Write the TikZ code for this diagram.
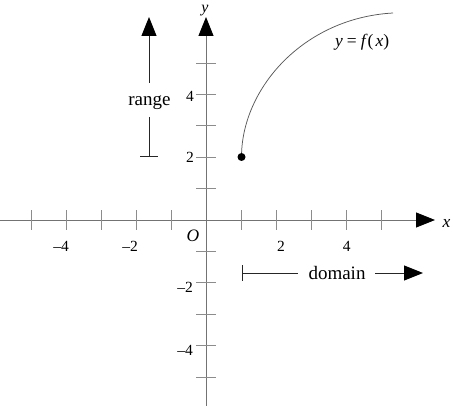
\documentclass[tikz,border=0pt]{standalone}
\usepackage{fontspec}
\setmainfont{Liberation Serif}
\usetikzlibrary{arrows.meta}
\begin{document}
\begin{tikzpicture}[x=1pt,y=-1pt,
  axis/.style={draw=black!55,line width=0.9pt},
  tickmark/.style={draw=black!45,line width=0.8pt},
  bigtip/.style={-{Triangle[length=19pt,width=15pt,color=black]}},
  guide/.style={draw=black!85,line width=1pt},
  num/.style={font=\fontsize{15.5}{15.5}\selectfont,inner sep=0pt},
  lbl/.style={font=\fontsize{19}{19}\selectfont,inner sep=0pt},
  var/.style={font=\fontsize{17.5}{17.5}\selectfont\itshape,inner sep=0pt}]
\useasboundingbox (0,0) rectangle (452,406);
% axes
\draw[axis,bigtip] (0,220) -- (435,220);
\draw[axis,bigtip] (206,406) -- (206,17);
% ticks
\foreach \i in {-5,...,-1,1,2,...,5}
  \draw[tickmark] ({206+35*\i},210) -- ({206+35*\i},230);
\foreach \i in {-5,...,-1,1,2,...,5}
  \draw[tickmark] (196,{220-31.4*\i}) -- (216,{220-31.4*\i});
% x labels
\node[num,anchor=base] (xm4) at (61,251) {–4};
\node[num,anchor=base] (xm2) at (130,251) {–2};
\node[num,anchor=base] (xp2) at (281,251) {2};
\node[num,anchor=base] (xp4) at (346.7,251) {4};
% y labels
\node[num,anchor=base east] (yp4) at (194,102) {4};
\node[num,anchor=base east] (yp2) at (194,163) {2};
\node[num,anchor=base east] (ym2) at (193,292) {–2};
\node[num,anchor=base east] (ym4) at (193,355) {–4};
% axis names
\node[var,anchor=base] (O) at (193,241) {O};
\node[var,anchor=base] (xname) at (446.5,227) {x};
\node[var,anchor=base,font=\fontsize{16}{16}\selectfont\itshape] (yname) at (205,12.5) {y};
% curve
\draw[black!65,line width=0.75pt] (241.5,157) .. controls (241.5,89) and (303,18) .. (393,13);
\fill (241.5,157) circle[radius=4pt];
\node[font=\fontsize{17.5}{17.5}\selectfont,inner sep=0pt,anchor=base west] (fx) at (335,47)
  {\textit{y}\hspace{4pt}=\hspace{4pt}\textit{f}(\hspace{2pt}\textit{x})};
% range
\node[lbl,anchor=base] (range) at (149.5,106) {range};
\draw[guide,bigtip] (149,83) -- (149,17);
\draw[guide] (149,117) -- (149,157);
\draw[guide] (140,157) -- (158,157);
% domain
\node[lbl,anchor=base] (domain) at (337,279) {domain};
\draw[guide] (242,265) -- (242,281);
\draw[guide] (242,273) -- (298,273);
\draw[guide,bigtip] (375,273) -- (423,273);
\end{tikzpicture}
\end{document}
